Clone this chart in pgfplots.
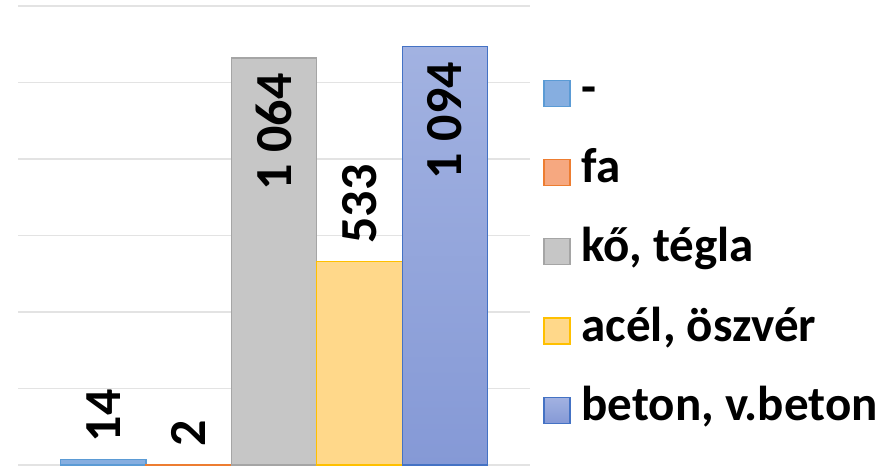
\documentclass[border=0pt]{standalone}
\usepackage{pgfplots}
\pgfplotsset{compat=1.18}
\usepackage{fontspec}
\setmainfont{Carlito}
\definecolor{c1f}{HTML}{86AEE0}
\definecolor{c1d}{HTML}{5B9BD5}
\definecolor{c2f}{HTML}{F6A880}
\definecolor{c2d}{HTML}{ED7D31}
\definecolor{c3f}{HTML}{C6C6C6}
\definecolor{c3d}{HTML}{A5A5A5}
\definecolor{c4f}{HTML}{FFD88A}
\definecolor{c4d}{HTML}{FFC000}
\definecolor{c5t}{HTML}{A2B2E1}
\definecolor{c5b}{HTML}{8599D6}
\definecolor{c5d}{HTML}{4472C4}
\definecolor{gridc}{HTML}{E3E3E3}
\begin{document}
\begin{tikzpicture}
\begin{axis}[
  scale only axis,
  width=256pt, height=229.5pt,
  xmin=-1, xmax=1,
  ymin=0, ymax=1200,
  ytick={0,200,...,1200},
  yticklabels={},
  xtick=\empty,
  ymajorgrids,
  grid style={gridc, line width=0.8pt},
  axis line style={draw=none},
  major tick style={draw=none},
  ybar=0pt,
  bar width=42.7pt,
  clip=false,
  /pgf/number format/.cd, 1000 sep={\ }, assume math mode=true,
  /pgfplots/.cd,
  every node near coord/.append style={font=\fontsize{26}{26}\selectfont\bfseries, text=black, rotate=90, inner sep=0pt},
  legend style={at={(1.0254,0.854)}, anchor=north west, draw=none, fill=none,
    inner sep=0pt, row sep=20.6pt, legend cell align=left,
    font=\fontsize{24.5}{24.5}\selectfont\bfseries,
    nodes={inner sep=0pt, text height=15pt, text depth=4pt},
    /tikz/every odd column/.append style={column sep=5.5pt}},
  legend image code/.code={\draw[#1] (0pt,-7pt) rectangle (13pt,6pt);},
]
\addplot[fill=c1f, draw=c1d, line width=0.6pt, nodes near coords, every node near coord/.append style={anchor=west, xshift=8.5pt}] coordinates {(0,14)};
\addplot[fill=c2f, draw=c2d, line width=0.6pt, nodes near coords, every node near coord/.append style={anchor=west, xshift=8.5pt}] coordinates {(0,2)};
\addplot[fill=c3f, draw=c3d, line width=0.6pt, nodes near coords, every node near coord/.append style={anchor=east, xshift=-7.5pt}] coordinates {(0,1064)};
\addplot[fill=c4f, draw=c4d, line width=0.6pt, nodes near coords, every node near coord/.append style={anchor=west, xshift=8.5pt}] coordinates {(0,533)};
\addplot[top color=c5t, bottom color=c5b, draw=c5d, line width=0.6pt, nodes near coords, every node near coord/.append style={anchor=east, xshift=-7.5pt}] coordinates {(0,1094)};
\legend{-, fa, kő{,} tégla, acél{,} öszvér, beton{,} v.beton}
\coordinate (bl) at (rel axis cs:0,0);
\coordinate (tr) at (rel axis cs:1,1);
\end{axis}
\pgfresetboundingbox
\path ([shift={(-9pt,-2.5pt)}]bl) rectangle ([shift={(181pt,3pt)}]tr);
\end{tikzpicture}
\end{document}
